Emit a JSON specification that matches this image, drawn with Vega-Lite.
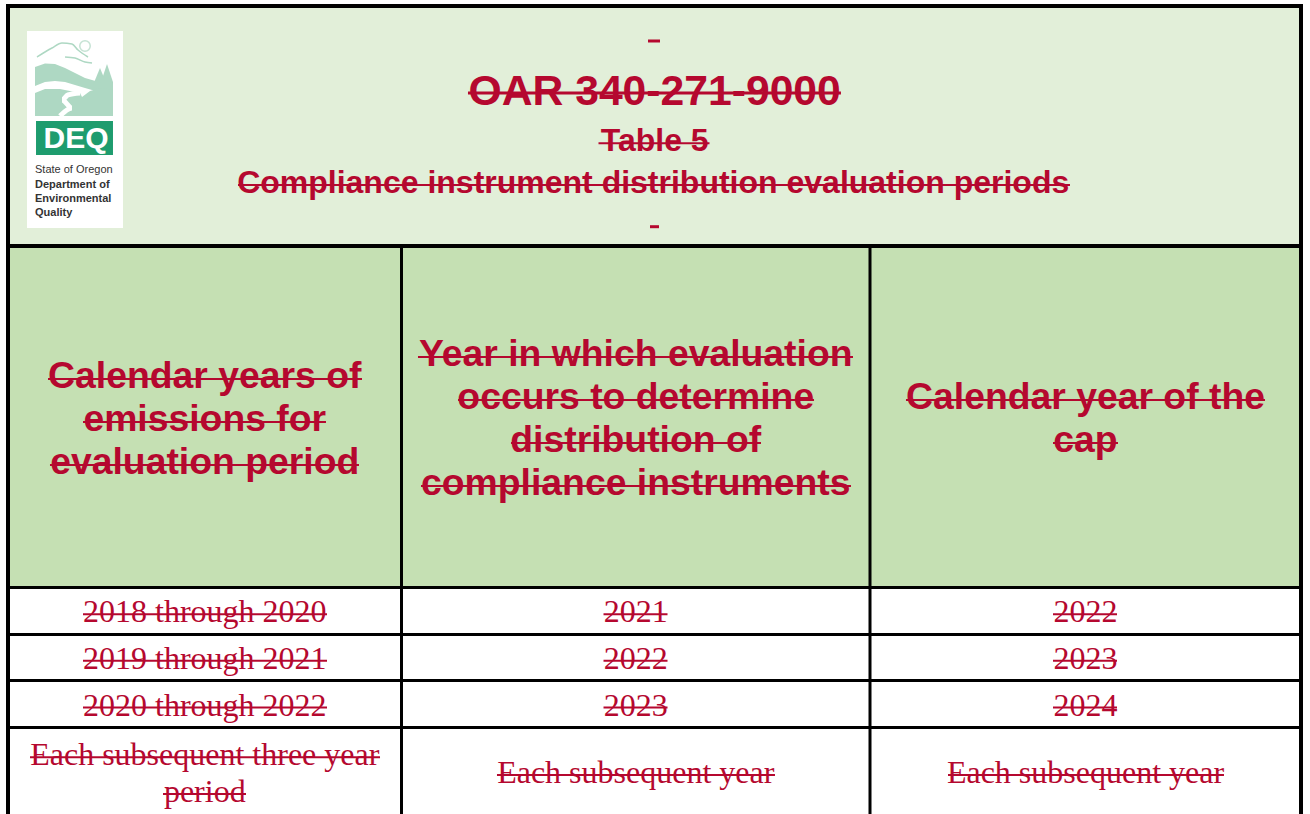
{"$schema":"https://vega.github.io/schema/vega-lite/v6.json","width":1310,"height":814,"padding":0,"autosize":{"type":"fit","contains":"padding"},"background":"white","config":{"view":{"stroke":null}},
"datasets":{
"cells":[
{"kind":"title","col":0,"col2":3,"row":0,"row2":1},
{"kind":"head","col":0,"col2":3,"row":1,"row2":2},
{"kind":"logo","col":0.0483,"col2":0.2923,"row":0.1042,"row2":0.925},
{"kind":"deq","col":0.0712,"col2":0.2668,"row":0.4792,"row2":0.6208}
],
"rules":[
{"kind":"outer","col":0,"col2":0,"row":0,"row2":6},
{"kind":"outer","col":3,"col2":3,"row":0,"row2":6},
{"kind":"inner","col":1,"col2":1,"row":1,"row2":6},
{"kind":"inner","col":2,"col2":2,"row":1,"row2":6},
{"kind":"outer","col":0,"col2":3,"row":0,"row2":0},
{"kind":"outer","col":0,"col2":3,"row":1,"row2":1},
{"kind":"inner","col":0,"col2":3,"row":2,"row2":2},
{"kind":"inner","col":0,"col2":3,"row":3,"row2":3},
{"kind":"inner","col":0,"col2":3,"row":4,"row2":4},
{"kind":"inner","col":0,"col2":3,"row":5,"row2":5}
],
"lines":[
{"kind":"dash","label":"","col":1.5372,"base":0.1458,"strike":0.1458,"from":1.5262,"to":1.5518},
{"kind":"dash","label":"","col":1.5372,"base":0.9196,"strike":0.9196,"from":1.5304,"to":1.5496},
{"kind":"title","label":"OAR 340-271-9000","col":1.5404,"base":0.4125,"strike":0.3625,"from":1.1419,"to":1.938},
{"kind":"sub","label":"Table 5","col":1.5404,"base":0.6042,"strike":0.5721,"from":1.4205,"to":1.6574},
{"kind":"sub","label":"Compliance instrument distribution evaluation periods","col":1.5372,"base":0.7779,"strike":0.7458,"from":0.5845,"to":2.464},
{"kind":"head","label":"Calendar years of","col":0.5,"base":1.4158,"strike":1.3895,"from":0.1017,"to":0.8996},
{"kind":"head","label":"emissions for","col":0.5,"base":1.5417,"strike":1.5154,"from":0.1906,"to":0.8081},
{"kind":"head","label":"evaluation period","col":0.5,"base":1.6676,"strike":1.6413,"from":0.1067,"to":0.892},
{"kind":"head","label":"Year in which evaluation","col":1.5,"base":1.3514,"strike":1.325,"from":1.0352,"to":1.9637},
{"kind":"head","label":"occurs to determine","col":1.5,"base":1.4773,"strike":1.451,"from":1.1206,"to":1.8805},
{"kind":"head","label":"distribution of","col":1.5,"base":1.6032,"strike":1.5769,"from":1.2337,"to":1.7673},
{"kind":"head","label":"compliance instruments","col":1.5,"base":1.7291,"strike":1.7028,"from":1.0416,"to":1.9594},
{"kind":"head","label":"Calendar year of the","col":2.5,"base":1.4773,"strike":1.451,"from":2.0835,"to":2.9165},
{"kind":"head","label":"cap","col":2.5,"base":1.6032,"strike":1.5769,"from":2.4246,"to":2.5754},
{"kind":"body","label":"2018 through 2020","col":0.5,"base":2.734,"strike":2.5702,"from":0.1906,"to":0.8107},
{"kind":"body","label":"2021","col":1.5,"base":2.734,"strike":2.5702,"from":1.4312,"to":1.5678},
{"kind":"body","label":"2022","col":2.5,"base":2.734,"strike":2.5702,"from":2.4246,"to":2.5731},
{"kind":"body","label":"2019 through 2021","col":0.5,"base":3.75,"strike":3.5717,"from":0.1906,"to":0.8107},
{"kind":"body","label":"2022","col":1.5,"base":3.75,"strike":3.5717,"from":1.4312,"to":1.5678},
{"kind":"body","label":"2023","col":2.5,"base":3.75,"strike":3.5717,"from":2.4246,"to":2.5731},
{"kind":"body","label":"2020 through 2022","col":0.5,"base":4.7553,"strike":4.5745,"from":0.1906,"to":0.8107},
{"kind":"body","label":"2023","col":1.5,"base":4.7553,"strike":4.5745,"from":1.4312,"to":1.5678},
{"kind":"body","label":"2024","col":2.5,"base":4.7553,"strike":4.5745,"from":2.4246,"to":2.5731},
{"kind":"body","label":"Each subsequent three year","col":0.5,"base":5.4335,"strike":5.3445,"from":0.0559,"to":0.9454},
{"kind":"body","label":"period","col":0.5,"base":5.8578,"strike":5.7688,"from":0.3939,"to":0.6048},
{"kind":"body","label":"Each subsequent year","col":1.5,"base":5.6416,"strike":5.5491,"from":1.2038,"to":1.7972},
{"kind":"body","label":"Each subsequent year","col":2.5,"base":5.6416,"strike":5.5491,"from":2.181,"to":2.8213}
],
"hills":[
{"shape":"mountain","col":0.0686,"top":0.2542,"bot":0.3333},
{"shape":"mountain","col":0.094,"top":0.2396,"bot":0.3167},
{"shape":"mountain","col":0.1194,"top":0.2417,"bot":0.3125},
{"shape":"mountain","col":0.1449,"top":0.2583,"bot":0.3167},
{"shape":"mountain","col":0.1703,"top":0.2792,"bot":0.3292},
{"shape":"mountain","col":0.1957,"top":0.3,"bot":0.3417},
{"shape":"mountain","col":0.2135,"top":0.3083,"bot":0.35},
{"shape":"mountain","col":0.2668,"top":0.3333,"bot":0.3542},
{"shape":"tree1","col":0.216,"top":0.3292,"bot":0.35},
{"shape":"tree1","col":0.2338,"top":0.2583,"bot":0.35},
{"shape":"tree1","col":0.2516,"top":0.3292,"bot":0.35},
{"shape":"tree2","col":0.2338,"top":0.3292,"bot":0.35},
{"shape":"tree2","col":0.2516,"top":0.2417,"bot":0.35},
{"shape":"tree2","col":0.2668,"top":0.3167,"bot":0.35},
{"shape":"bank","col":0.0686,"top":0.3625,"bot":0.4583},
{"shape":"bank","col":0.094,"top":0.3458,"bot":0.4583},
{"shape":"bank","col":0.1321,"top":0.3458,"bot":0.4583},
{"shape":"bank","col":0.183,"top":0.3625,"bot":0.4583},
{"shape":"bank","col":0.1881,"top":0.3792,"bot":0.4583},
{"shape":"bank","col":0.2084,"top":0.3542,"bot":0.4583},
{"shape":"bank","col":0.2338,"top":0.3417,"bot":0.4583},
{"shape":"bank","col":0.2668,"top":0.35,"bot":0.4583}
],
"strokes":[
{"shape":"river","i":0,"col":0.183,"row":0.3625},
{"shape":"river","i":1,"col":0.1525,"row":0.3708},
{"shape":"river","i":2,"col":0.1372,"row":0.3917},
{"shape":"river","i":3,"col":0.1626,"row":0.425},
{"shape":"river","i":4,"col":0.1321,"row":0.4583},
{"shape":"cloud","i":0,"col":0.0737,"row":0.2125},
{"shape":"cloud","i":1,"col":0.094,"row":0.1917},
{"shape":"cloud","i":2,"col":0.1118,"row":0.175},
{"shape":"cloud","i":3,"col":0.1372,"row":0.1542},
{"shape":"cloud","i":4,"col":0.1626,"row":0.1583},
{"shape":"cloud","i":5,"col":0.1779,"row":0.1833},
{"shape":"cloud","i":6,"col":0.2033,"row":0.2125},
{"shape":"wave","i":0,"col":0.1449,"row":0.2125},
{"shape":"wave","i":1,"col":0.1703,"row":0.2167},
{"shape":"wave","i":2,"col":0.1957,"row":0.2333},
{"shape":"wave","i":3,"col":0.2135,"row":0.2375}
],
"sun":[{"col":0.1957,"row":0.1667}],
"deq":[{"label":"DEQ","col":0.1728,"row":0.5917}],
"credit":[
{"label":"State of Oregon","kind":"plain","col":0.0686,"row":0.6958},
{"label":"Department of","kind":"bold","col":0.0686,"row":0.7583},
{"label":"Environmental","kind":"bold","col":0.0686,"row":0.8167},
{"label":"Quality","kind":"bold","col":0.0686,"row":0.875}
]
},
"layer":[
{"data":{"name":"cells"},"mark":{"type":"rect"},"encoding":{
"x":{"field":"col","type":"quantitative","axis":null,"scale":{"domain":[0,1,2,3],"range":[8,401.5,870,1301]}},
"x2":{"field":"col2"},
"y":{"field":"row","type":"quantitative","axis":null,"scale":{"domain":[0,1,2,3,4,5,6],"range":[6,246,587.5,634.5,680.5,727.5,814]}},
"y2":{"field":"row2"},
"color":{"field":"kind","type":"nominal","legend":null,"scale":{"domain":["title","head","logo","deq"],"range":["#E2EFD9","#C5E0B3","#FFFFFF","#1E9C6E"]}}}},
{"data":{"name":"hills"},"mark":{"type":"area","color":"#AED8C3","orient":"vertical"},"encoding":{
"x":{"field":"col","type":"quantitative","axis":null,"scale":{"domain":[0,1,2,3],"range":[8,401.5,870,1301]}},
"y":{"field":"top","type":"quantitative","axis":null,"scale":{"domain":[0,1,2,3,4,5,6],"range":[6,246,587.5,634.5,680.5,727.5,814]}},
"y2":{"field":"bot"},
"detail":{"field":"shape"}}},
{"data":{"name":"strokes"},"transform":[{"filter":"datum.shape=='river'"}],"mark":{"type":"line","color":"#FFFFFF","strokeWidth":5,"interpolate":"monotone"},"encoding":{
"x":{"field":"col","type":"quantitative","axis":null,"scale":{"domain":[0,1,2,3],"range":[8,401.5,870,1301]}},
"y":{"field":"row","type":"quantitative","axis":null,"scale":{"domain":[0,1,2,3,4,5,6],"range":[6,246,587.5,634.5,680.5,727.5,814]}},
"order":{"field":"i"}}},
{"data":{"name":"strokes"},"transform":[{"filter":"datum.shape!='river'"}],"mark":{"type":"line","color":"#AED8C3","strokeWidth":1.5,"interpolate":"monotone"},"encoding":{
"x":{"field":"col","type":"quantitative","axis":null,"scale":{"domain":[0,1,2,3],"range":[8,401.5,870,1301]}},
"y":{"field":"row","type":"quantitative","axis":null,"scale":{"domain":[0,1,2,3,4,5,6],"range":[6,246,587.5,634.5,680.5,727.5,814]}},
"detail":{"field":"shape"},"order":{"field":"i"}}},
{"data":{"name":"sun"},"mark":{"type":"point","filled":false,"color":"#AED8C3","size":110,"strokeWidth":1.5},"encoding":{
"x":{"field":"col","type":"quantitative","axis":null,"scale":{"domain":[0,1,2,3],"range":[8,401.5,870,1301]}},
"y":{"field":"row","type":"quantitative","axis":null,"scale":{"domain":[0,1,2,3,4,5,6],"range":[6,246,587.5,634.5,680.5,727.5,814]}}}},
{"data":{"name":"deq"},"mark":{"type":"text","font":"Liberation Sans","fontWeight":"bold","fontSize":30,"color":"#FFFFFF","align":"center","baseline":"alphabetic"},"encoding":{
"x":{"field":"col","type":"quantitative","axis":null,"scale":{"domain":[0,1,2,3],"range":[8,401.5,870,1301]}},
"y":{"field":"row","type":"quantitative","axis":null,"scale":{"domain":[0,1,2,3,4,5,6],"range":[6,246,587.5,634.5,680.5,727.5,814]}},
"text":{"field":"label"}}},
{"data":{"name":"credit"},"transform":[{"filter":"datum.kind=='plain'"}],"mark":{"type":"text","font":"Liberation Sans","fontSize":11,"color":"#333333","align":"left","baseline":"alphabetic"},"encoding":{
"x":{"field":"col","type":"quantitative","axis":null,"scale":{"domain":[0,1,2,3],"range":[8,401.5,870,1301]}},
"y":{"field":"row","type":"quantitative","axis":null,"scale":{"domain":[0,1,2,3,4,5,6],"range":[6,246,587.5,634.5,680.5,727.5,814]}},
"text":{"field":"label"}}},
{"data":{"name":"credit"},"transform":[{"filter":"datum.kind=='bold'"}],"mark":{"type":"text","font":"Liberation Sans","fontWeight":"bold","fontSize":11,"color":"#333333","align":"left","baseline":"alphabetic"},"encoding":{
"x":{"field":"col","type":"quantitative","axis":null,"scale":{"domain":[0,1,2,3],"range":[8,401.5,870,1301]}},
"y":{"field":"row","type":"quantitative","axis":null,"scale":{"domain":[0,1,2,3,4,5,6],"range":[6,246,587.5,634.5,680.5,727.5,814]}},
"text":{"field":"label"}}},
{"data":{"name":"rules"},"mark":{"type":"rule","color":"#000000","strokeCap":"square"},"encoding":{
"x":{"field":"col","type":"quantitative","axis":null,"scale":{"domain":[0,1,2,3],"range":[8,401.5,870,1301]}},
"x2":{"field":"col2"},
"y":{"field":"row","type":"quantitative","axis":null,"scale":{"domain":[0,1,2,3,4,5,6],"range":[6,246,587.5,634.5,680.5,727.5,814]}},
"y2":{"field":"row2"},
"strokeWidth":{"condition":{"test":"datum.kind=='outer'","value":4},"value":3}}},
{"data":{"name":"lines"},"mark":{"type":"rule","color":"#B5082F"},"encoding":{
"x":{"field":"from","type":"quantitative","axis":null,"scale":{"domain":[0,1,2,3],"range":[8,401.5,870,1301]}},
"x2":{"field":"to"},
"y":{"field":"strike","type":"quantitative","axis":null,"scale":{"domain":[0,1,2,3,4,5,6],"range":[6,246,587.5,634.5,680.5,727.5,814]}},
"strokeWidth":{"condition":{"test":"datum.kind=='title' || datum.kind=='dash'","value":3},"value":2}}},
{"data":{"name":"lines"},"transform":[{"filter":"datum.kind=='title'"}],"mark":{"type":"text","font":"Liberation Sans","fontWeight":"bold","fontSize":42.67,"color":"#B5082F","align":"center","baseline":"alphabetic"},"encoding":{
"x":{"field":"col","type":"quantitative","axis":null,"scale":{"domain":[0,1,2,3],"range":[8,401.5,870,1301]}},
"y":{"field":"base","type":"quantitative","axis":null,"scale":{"domain":[0,1,2,3,4,5,6],"range":[6,246,587.5,634.5,680.5,727.5,814]}},
"text":{"field":"label"}}},
{"data":{"name":"lines"},"transform":[{"filter":"datum.kind=='sub'"}],"mark":{"type":"text","font":"Liberation Sans","fontWeight":"bold","fontSize":32,"color":"#B5082F","align":"center","baseline":"alphabetic"},"encoding":{
"x":{"field":"col","type":"quantitative","axis":null,"scale":{"domain":[0,1,2,3],"range":[8,401.5,870,1301]}},
"y":{"field":"base","type":"quantitative","axis":null,"scale":{"domain":[0,1,2,3,4,5,6],"range":[6,246,587.5,634.5,680.5,727.5,814]}},
"text":{"field":"label"}}},
{"data":{"name":"lines"},"transform":[{"filter":"datum.kind=='head'"}],"mark":{"type":"text","font":"Liberation Sans","fontWeight":"bold","fontSize":37.33,"color":"#B5082F","align":"center","baseline":"alphabetic"},"encoding":{
"x":{"field":"col","type":"quantitative","axis":null,"scale":{"domain":[0,1,2,3],"range":[8,401.5,870,1301]}},
"y":{"field":"base","type":"quantitative","axis":null,"scale":{"domain":[0,1,2,3,4,5,6],"range":[6,246,587.5,634.5,680.5,727.5,814]}},
"text":{"field":"label"}}},
{"data":{"name":"lines"},"transform":[{"filter":"datum.kind=='body'"}],"mark":{"type":"text","font":"Liberation Serif","fontSize":32,"color":"#B5082F","align":"center","baseline":"alphabetic"},"encoding":{
"x":{"field":"col","type":"quantitative","axis":null,"scale":{"domain":[0,1,2,3],"range":[8,401.5,870,1301]}},
"y":{"field":"base","type":"quantitative","axis":null,"scale":{"domain":[0,1,2,3,4,5,6],"range":[6,246,587.5,634.5,680.5,727.5,814]}},
"text":{"field":"label"}}}
]}
